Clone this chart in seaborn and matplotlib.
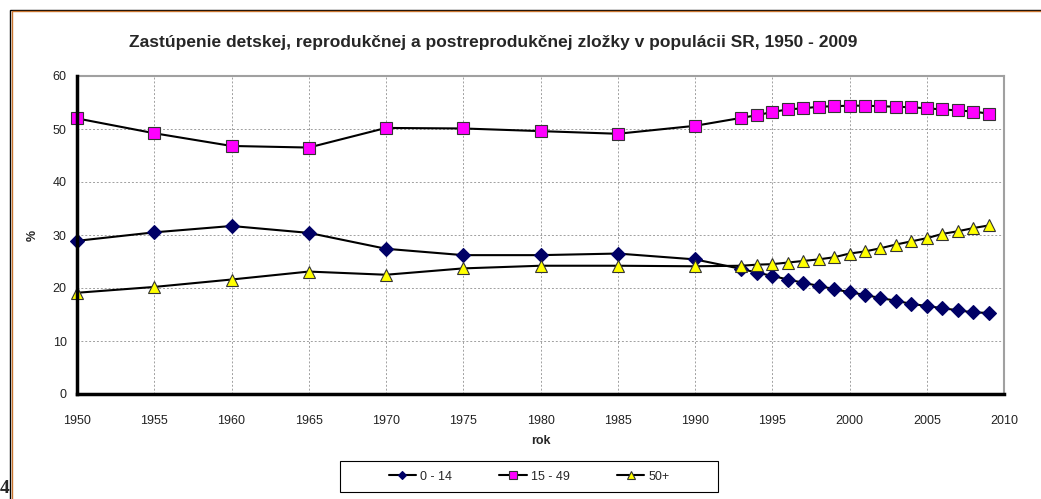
import matplotlib.pyplot as plt
import matplotlib.patches as mpatches
import pandas as pd
import seaborn as sns

# Data
years = [1950, 1955, 1960, 1965, 1970, 1975, 1980, 1985, 1990,
         1993, 1994, 1995, 1996, 1997, 1998, 1999, 2000, 2001,
         2002, 2003, 2004, 2005, 2006, 2007, 2008, 2009]
deti = [28.9, 30.5, 31.7, 30.4, 27.4, 26.2, 26.2, 26.5, 25.4,
        23.6, 22.9, 22.3, 21.6, 21.0, 20.4, 19.8, 19.2, 18.7,
        18.1, 17.6, 17.0, 16.6, 16.2, 15.8, 15.4, 15.3]
repro = [52.0, 49.2, 46.8, 46.5, 50.2, 50.1, 49.6, 49.1, 50.6,
         52.1, 52.6, 53.2, 53.7, 53.9, 54.2, 54.3, 54.4, 54.4,
         54.3, 54.2, 54.1, 53.9, 53.7, 53.5, 53.3, 52.9]
postrepro = [19.1, 20.2, 21.6, 23.1, 22.5, 23.7, 24.2, 24.2, 24.1,
             24.2, 24.4, 24.5, 24.8, 25.1, 25.4, 25.8, 26.5, 26.9,
             27.5, 28.2, 28.8, 29.4, 30.2, 30.7, 31.3, 31.8]
labels = ['0 - 14', '15 - 49', '50+']

df = pd.DataFrame({'rok': years, labels[0]: deti,
                   labels[1]: repro, labels[2]: postrepro})

sns.set_style('white')
plt.rcParams['font.family'] = ['Liberation Sans', 'DejaVu Sans']

W, H = 1041, 499
fig = plt.figure(figsize=(W / 100, H / 100), dpi=100)
ax = fig.add_axes([77 / W, 1 - 394 / H, 927 / W, 318 / H])

# outer frame of the picture
fig.patches.append(mpatches.Rectangle((10 / W, -0.1), 1.2, 0.1 + (H - 10) / H,
                                      transform=fig.transFigure, fill=False,
                                      edgecolor='black', lw=1.0))
fig.patches.append(mpatches.Rectangle((11.5 / W, -0.1), 1.2, 0.1 + (H - 11.5) / H,
                                      transform=fig.transFigure, fill=False,
                                      edgecolor='#c8742e', lw=1.0))

styles = [('D', '#000066', 7, '#000066'),
          ('s', '#ff00ff', 9, '#333333'),
          ('^', '#ffff00', 9, '#333333')]
for lab, (mk, fc, ms, ec) in zip(labels, styles):
    sns.lineplot(data=df, x='rok', y=lab, ax=ax, color='black', lw=1.5,
                 marker=mk, markersize=ms, markerfacecolor=fc,
                 markeredgecolor=ec, markeredgewidth=0.8, label=lab,
                 clip_on=False, zorder=3)

ax.set_xlim(1950, 2010)
ax.set_ylim(0, 60)
ax.set_xticks(range(1950, 2011, 5))
ax.set_yticks(range(0, 61, 10))
ax.grid(True, color='#a0a0a0', linestyle=(0, (2, 2)), lw=0.7)
ax.tick_params(axis='both', labelsize=9, colors='black', length=4, width=2,
               labelcolor='#222222', direction='out')
ax.tick_params(axis='x', pad=11)
for side in ['left', 'bottom']:
    ax.spines[side].set_color('black')
    ax.spines[side].set_linewidth(2.5)
    ax.spines[side].set_zorder(4)
for side in ['top', 'right']:
    ax.spines[side].set_color('#a0a0a0')
    ax.spines[side].set_linewidth(1.5)

ax.set_xlabel('rok', fontsize=9, fontweight='bold', labelpad=6)
ax.set_ylabel('%', fontsize=9, fontweight='bold', labelpad=10)

fig.text(493 / W, 1 - 42 / H,
         'Zastúpenie detskej, reprodukčnej a postreprodukčnej zložky v populácii SR, 1950 - 2009',
         ha='center', va='center', fontsize=12.5, fontweight='bold')

# legend box drawn separately so its size matches the original
fig.patches.append(mpatches.Rectangle((340 / W, 1 - 492 / H), 378 / W, 31 / H,
                                      transform=fig.transFigure, fill=True,
                                      facecolor='white', edgecolor='black',
                                      lw=0.8, zorder=-1))
leg = ax.legend(loc='center', bbox_to_anchor=(529 / W, 1 - 476.5 / H),
                bbox_transform=fig.transFigure, ncol=3, fontsize=9,
                frameon=False, handlelength=2.2, handletextpad=0.3,
                columnspacing=3.8, markerscale=0.6)

fig.text(0.0, 0.005, '4', fontsize=14, fontweight='bold',
         family='Liberation Serif', ha='left', va='bottom')

fig.savefig('out.png', dpi=100)
